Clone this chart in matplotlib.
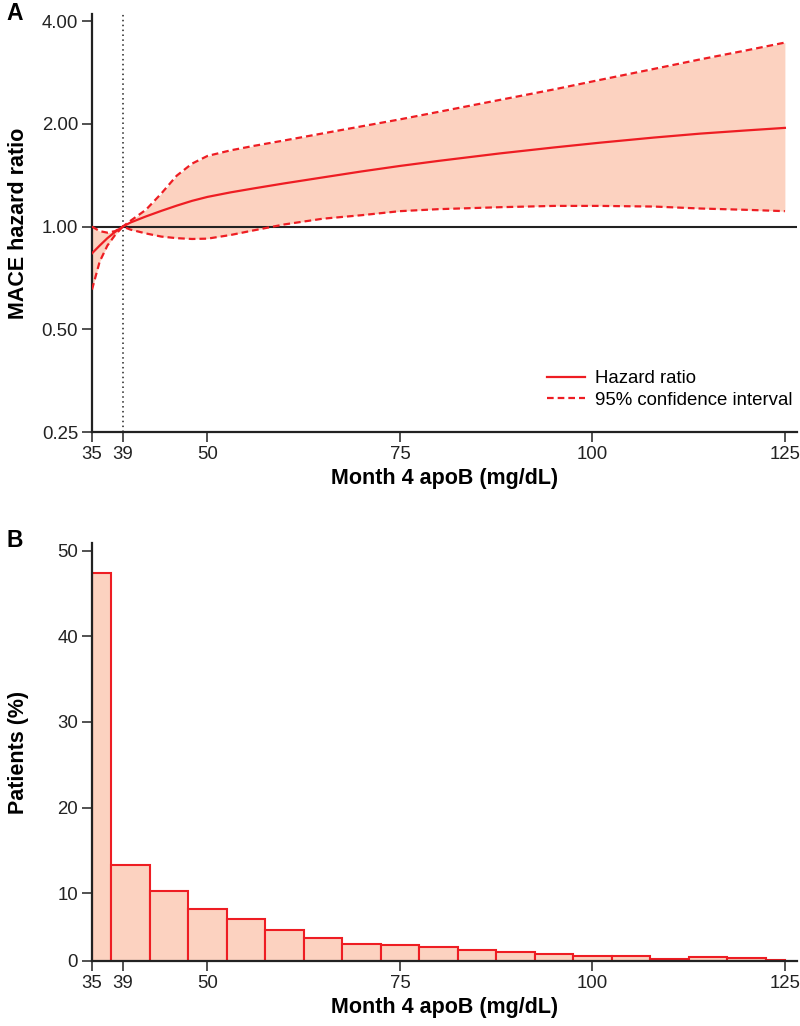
import matplotlib.pyplot as plt
import numpy as np

plt.rcParams['font.family'] = ['Liberation Sans', 'DejaVu Sans']

red = '#EE1D23'
fill = '#FCD2C0'

# panel A: spline hazard ratio with 95% CI
apob = [35, 36, 37, 38, 39, 40, 42, 44, 46, 48, 50, 53, 56, 60, 65, 70, 75, 80, 88, 95, 101, 108, 114, 120, 125]
hr = [0.835, 0.88, 0.925, 0.965, 1.0, 1.028, 1.071, 1.112, 1.152, 1.19, 1.222, 1.26, 1.294, 1.339, 1.394, 1.451,
      1.506, 1.558, 1.639, 1.706, 1.762, 1.824, 1.873, 1.914, 1.947]
ci_upper = [1.0, 0.97, 0.96, 0.97, 1.0, 1.04, 1.12, 1.25, 1.41, 1.53, 1.611, 1.673, 1.724, 1.789, 1.876, 1.967,
            2.062, 2.169, 2.352, 2.524, 2.692, 2.899, 3.091, 3.285, 3.462]
ci_lower = [0.654, 0.79, 0.88, 0.945, 1.0, 0.98, 0.955, 0.935, 0.925, 0.92, 0.922, 0.945, 0.975, 1.015, 1.055,
            1.08, 1.11, 1.125, 1.14, 1.15, 1.15, 1.145, 1.13, 1.12, 1.11]

# panel B: histogram of month 4 apoB
bin_edges = [35, 37.5, 42.5, 47.5, 52.5, 57.5, 62.5, 67.5, 72.5, 77.5, 82.5, 87.5, 92.5, 97.5,
             102.5, 107.5, 112.5, 117.5, 122.5, 125]
pct = [47.4, 13.33, 10.3, 8.17, 7.0, 5.7, 4.8, 4.1, 4.0, 3.76, 3.37, 3.1, 2.94, 2.67, 2.67, 2.36, 2.6, 2.48, 2.25]

xticks = [35, 39, 50, 75, 100, 125]

fig = plt.figure(figsize=(8, 10.26), dpi=100)
ax1 = fig.add_axes([0.115, 0.5789, 0.8815, 0.4075])
ax2 = fig.add_axes([0.115, 0.0634, 0.8815, 0.4071])

ax1.fill_between(apob, ci_lower, ci_upper, color=fill, lw=0)
ax1.axhline(1.0, color='#222222', lw=1.5, zorder=3)
ax1.axvline(39, color='#222222', lw=1.1, ls=(0, (1, 2.2)), zorder=3)
ax1.plot(apob, hr, color=red, lw=1.6, label='Hazard ratio', zorder=4)
ax1.plot(apob, ci_upper, color=red, lw=1.6, ls=(0, (3, 1.8)), label='95% confidence interval', zorder=4)
ax1.plot(apob, ci_lower, color=red, lw=1.6, ls=(0, (3, 1.8)), zorder=4)

ax1.set_yscale('log', base=2)
ax1.set_ylim(0.25, 4.2)
ax1.set_yticks([0.25, 0.5, 1, 2, 4])
ax1.set_yticklabels(['0.25', '0.50', '1.00', '2.00', '4.00'])
ax1.yaxis.set_minor_locator(plt.NullLocator())
ax1.set_ylabel('MACE hazard ratio', fontsize=15.5, fontweight='bold')

left = np.array(bin_edges[:-1])
widths = np.diff(bin_edges)
ax2.bar(left, pct, width=widths, align='edge', color=fill, edgecolor=red, linewidth=1.5)
ax2.set_ylim(2.1, 50.86)
ax2.set_yticks([2.1, 10, 20, 30, 40, 50])
ax2.set_yticklabels(['0', '10', '20', '30', '40', '50'])
ax2.set_ylabel('Patients (%)', fontsize=15.5, fontweight='bold')

for ax in (ax1, ax2):
    ax.set_xlim(35, 126.6)
    ax.set_xticks(xticks)
    ax.set_xticklabels([str(t) for t in xticks])
    ax.set_xlabel('Month 4 apoB (mg/dL)', fontsize=15.5, fontweight='bold', labelpad=4)
    ax.yaxis.set_label_coords(-0.09, 0.5)
    ax.spines['top'].set_visible(False)
    ax.spines['right'].set_visible(False)
    ax.spines['left'].set_linewidth(1.6)
    ax.spines['bottom'].set_linewidth(1.6)
    ax.spines['left'].set_color('#222222')
    ax.spines['bottom'].set_color('#222222')
    ax.tick_params(labelsize=13.4, length=7, width=1.1, color='#222222', pad=3, labelcolor='#222222')

ax1.legend(loc='upper left', bbox_to_anchor=(547 / 800, 1 - 370 / 1026), bbox_transform=fig.transFigure,
           frameon=False, fontsize=13.4, handlelength=2.05, handletextpad=0.55, labelspacing=0.25,
           borderpad=0, borderaxespad=0)

fig.text(0.008, 0.998, 'A', fontsize=16.5, fontweight='bold', va='top', ha='left')
fig.text(0.008, 0.4846, 'B', fontsize=16.5, fontweight='bold', va='top', ha='left')

fig.savefig('out.png', dpi=100)
